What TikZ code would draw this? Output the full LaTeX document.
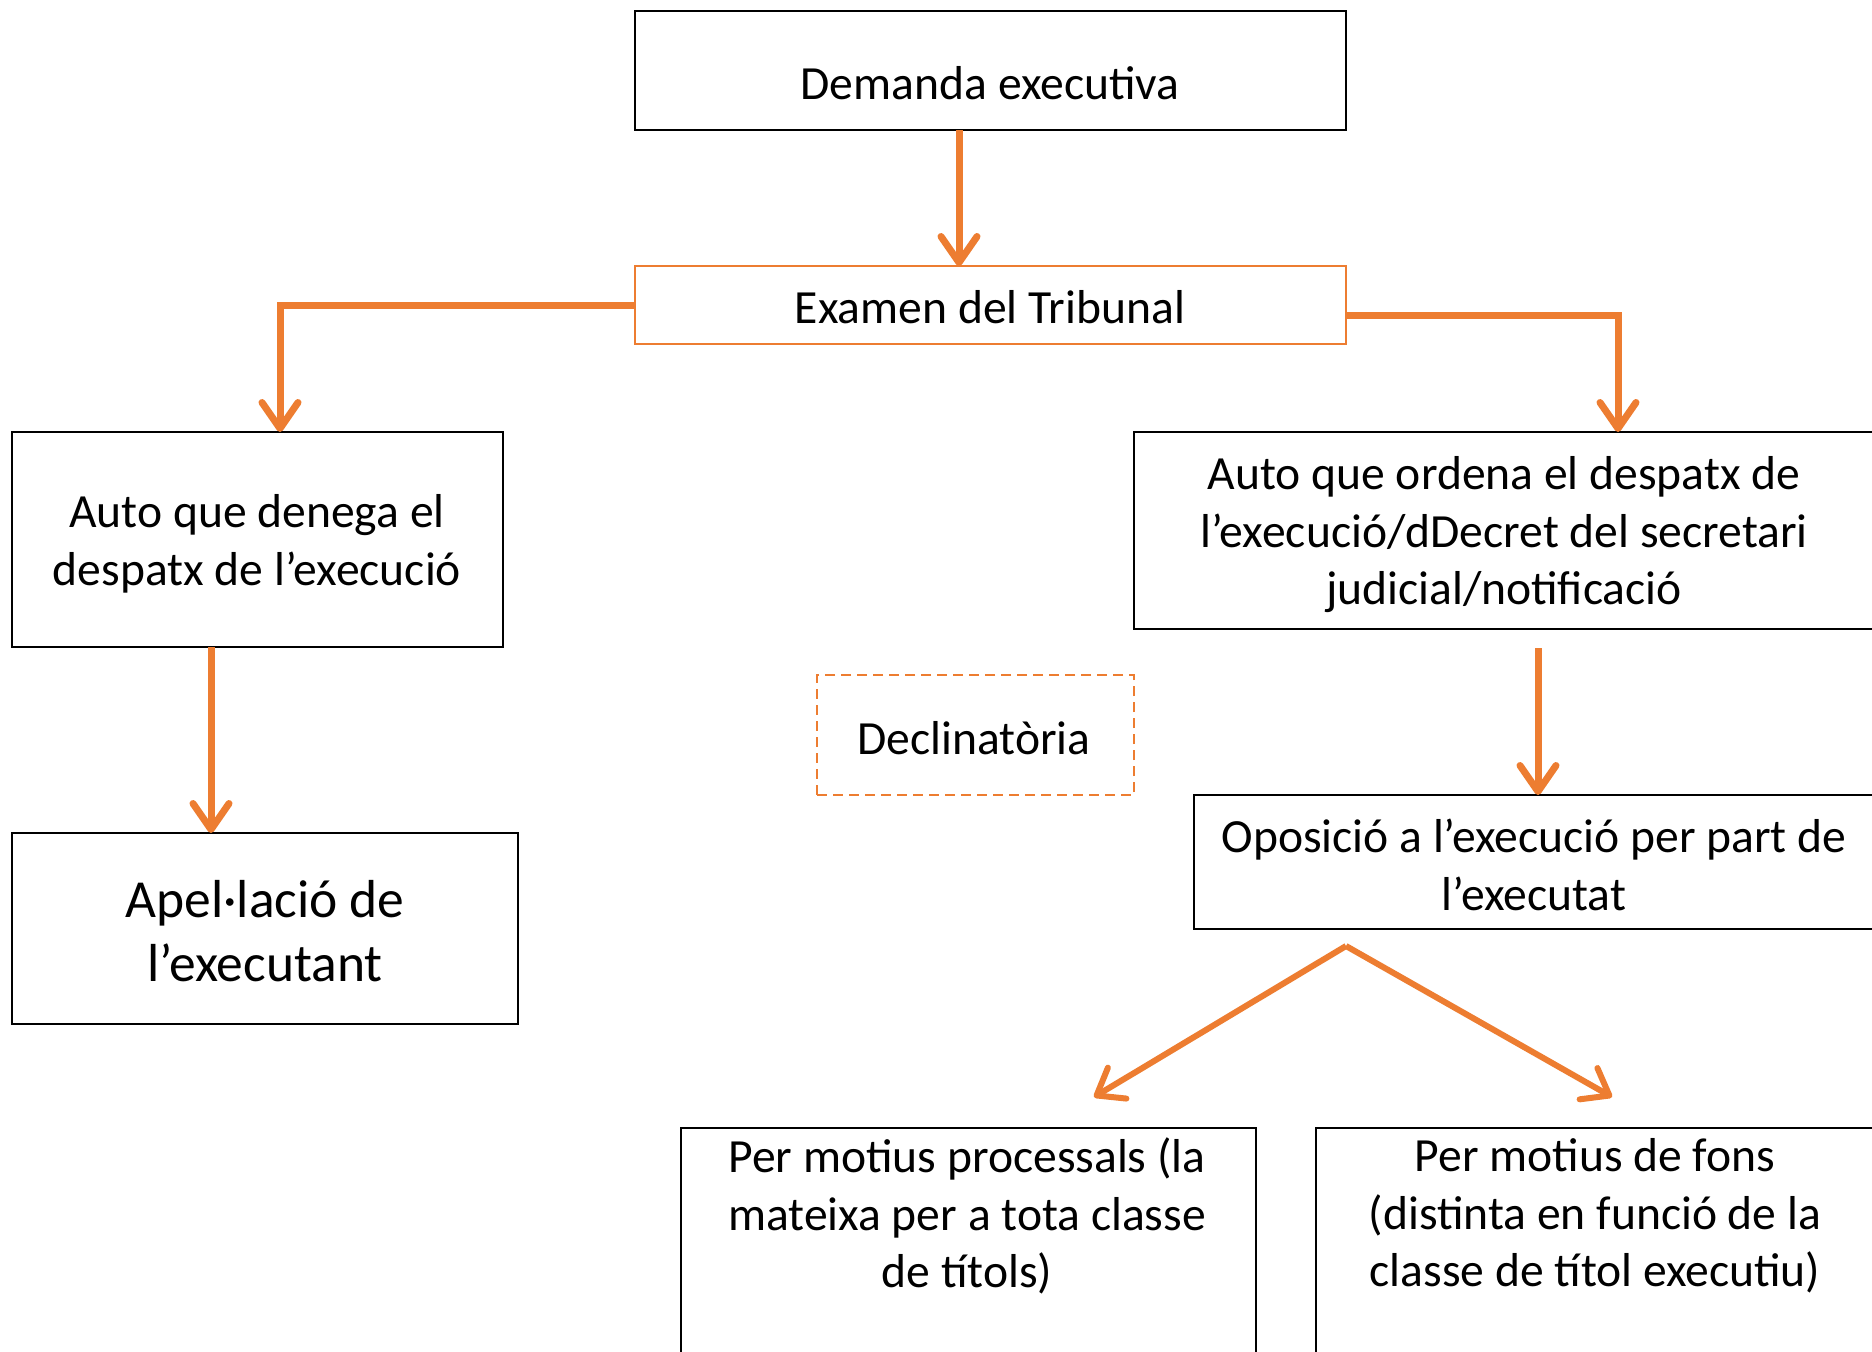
\documentclass[tikz,border=0pt]{standalone}
\usepackage{fontspec}
\setmainfont{Carlito}
\usetikzlibrary{arrows.meta,calc}
\definecolor{orng}{HTML}{ED7D31}
\begin{document}
\begin{tikzpicture}[x=1pt,y=-1pt,
  blackbox/.style={draw=black,line width=2.6pt,rectangle,inner sep=0pt,outer sep=0pt},
  orangebox/.style={draw=orng,line width=2pt,rectangle,inner sep=0pt,outer sep=0pt},
  dashbox/.style={draw=orng,line width=2.6pt,dash pattern=on 10pt off 6pt,rectangle,inner sep=0pt,outer sep=0pt},
  txt/.style={align=center,inner sep=0pt,font=\fontsize{47.6}{57.5}\selectfont},
  bigtxt/.style={align=center,inner sep=0pt,font=\fontsize{53.5}{64.5}\selectfont},
  arr/.style={draw=orng,line width=7pt,-{Straight Barb[length=26pt,width=36pt,round]}},
  darr/.style={draw=orng,line width=6pt,-{Straight Barb[length=24pt,width=36pt,round]}}]
\path[use as bounding box,fill=white] (0,0) rectangle (1872,1352);

% boxes
\node[blackbox,minimum width=711pt,minimum height=119pt] (demanda) at (990.5,70.5) {};
\node[orangebox,minimum width=711pt,minimum height=78pt] (examen) at (990.5,305) {};
\node[blackbox,minimum width=491pt,minimum height=215pt] (autoL) at (257.5,539.5) {};
\node[blackbox,minimum width=740pt,minimum height=197pt] (autoR) at (1504,530.5) {};
\node[blackbox,minimum width=506pt,minimum height=191pt] (apel) at (265,928.5) {};
\node[dashbox,minimum width=317pt,minimum height=120pt] (decl) at (975.5,735) {};
\node[blackbox,minimum width=680pt,minimum height=134pt] (opos) at (1534,862) {};
\node[blackbox,minimum width=575pt,minimum height=272pt] (proc) at (968.5,1264) {};
\node[blackbox,minimum width=558pt,minimum height=272pt] (fons) at (1595,1264) {};

% texts
\node[txt] (tdemanda) at (990,83) {Demanda executiva};
\node[txt] (texamen) at (990,307) {Examen del Tribunal};
\node[txt] (tautoL) at (257,544) {Auto que denega el\\despatx de l’execució};
\node[txt] (tautoR) at (1504,535) {Auto que ordena el despatx de\\l’execució/dDecret del secretari\\judicial/notificació};
\node[bigtxt] (tapel) at (265,931) {Apel·lació de\\l’executant};
\node[txt] (tdecl) at (974,738) {Declinatòria};
\node[txt] (topos) at (1534,865) {Oposició a l’execució per part de\\l’executat};
\node[txt] (tproc) at (967,1216) {Per motius processals (la\\mateixa per a tota classe\\de títols)};
\node[txt] (tfons) at (1595,1216) {Per motius de fons\\(distinta en funció de la\\classe de títol executiu)};

% connector coordinates
\coordinate (c1) at (959,0);
\coordinate (c2) at (280,0);
\coordinate (c3) at (1618,0);
\coordinate (c4) at (211,0);
\coordinate (c5) at (1538,0);
\coordinate (apex) at (1346,946);
\coordinate (tipL) at (1094,1097);
\coordinate (tipR) at (1612,1097);

% connectors
\draw[arr] (demanda.south -| c1) -- (examen.north -| c1);
\draw[arr] (examen.west) -| (autoL.north -| c2);
\draw[arr] ($(examen.east)+(0,10)$) -| (autoR.north -| c3);
\draw[arr] (autoL.south -| c4) -- (apel.north -| c4);
\draw[arr] ($(autoR.south -| c5)+(0,19)$) -- (opos.north -| c5);
\draw[darr] (apex) -- (tipL);
\draw[darr] (apex) -- (tipR);
\end{tikzpicture}
\end{document}
